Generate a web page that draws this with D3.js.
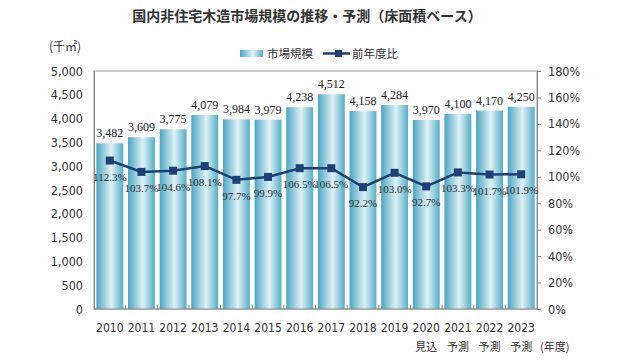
<!DOCTYPE html>
<html>
<head>
<meta charset="utf-8">
<script src="https://cdn.jsdelivr.net/npm/d3@7"></script>
<style>
  body { margin: 0; background: #fff; }
  svg { display: block; }
</style>
</head>
<body>
<svg width="640" height="360"></svg>
<script>
// data
let years = ['2010', '2011', '2012', '2013', '2014', '2015', '2016', '2017', '2018', '2019', '2020', '2021', '2022', '2023']
let notes = ['', '', '', '', '', '', '', '', '', '', '見込', '予測', '予測', '予測']
let market = [3482, 3609, 3775, 4079, 3984, 3979, 4238, 4512, 4158, 4284, 3970, 4100, 4170, 4250]
let ratio = [112.3, 103.7, 104.6, 108.1, 97.7, 99.9, 106.5, 106.5, 92.2, 103.0, 92.7, 103.3, 101.7, 101.9]
let leftTicks = [0, 500, 1000, 1500, 2000, 2500, 3000, 3500, 4000, 4500, 5000]
let rightTicks = [0, 20, 40, 60, 80, 100, 120, 140, 160, 180]

let svg = d3.select('svg')
let pLeft = 94, pRight = 537, pTop = 71, pBottom = 309
let sans = '"DejaVu Sans Condensed", "DejaVu Sans", sans-serif'
let serif = '"Liberation Serif", "Times New Roman", serif'
let jp = '"Noto Sans CJK JP", sans-serif'
let navy = '#1f3f77'

let x = d3.scaleBand().domain(years).range([pLeft, pRight]).paddingInner(0.15).paddingOuter(0.075)
let y = d3.scaleLinear().domain([0, 5000]).range([pBottom, pTop])
let y2 = d3.scaleLinear().domain([0, 180]).range([pBottom, pTop])

// gradient for bars
let defs = svg.append('defs')
let grad = defs.append('linearGradient').attr('id', 'barGrad')
    .attr('x1', '0%').attr('x2', '100%').attr('y1', '0%').attr('y2', '0%')
grad.append('stop').attr('offset', '0%').attr('stop-color', '#4aa6c2')
grad.append('stop').attr('offset', '55%').attr('stop-color', '#e0f2f6')
grad.append('stop').attr('offset', '100%').attr('stop-color', '#55aec8')

// title
svg.append('text').attr('x', 307).attr('y', 21).attr('text-anchor', 'middle')
    .style('font-family', jp).style('font-size', '14px').style('font-weight', 'bold').style('fill', '#333')
    .text('国内非住宅木造市場規模の推移・予測（床面積ベース）')

svg.append('text').attr('x', 49).attr('y', 51)
    .style('font-family', jp).style('font-size', '12px').style('fill', '#333')
    .text('(千㎡)')

// legend
svg.append('rect').attr('x', 240).attr('y', 50).attr('width', 23).attr('height', 7).attr('fill', 'url(#barGrad)')
svg.append('text').attr('x', 267).attr('y', 58)
    .style('font-family', jp).style('font-size', '11.5px').style('fill', '#333').text('市場規模')
svg.append('line').attr('x1', 323).attr('x2', 350).attr('y1', 53.5).attr('y2', 53.5)
    .attr('stroke', navy).attr('stroke-width', 2.5)
svg.append('rect').attr('x', 335).attr('y', 50).attr('width', 7).attr('height', 7).attr('fill', navy)
svg.append('text').attr('x', 352).attr('y', 58)
    .style('font-family', jp).style('font-size', '11.5px').style('fill', '#333').text('前年度比')

// plot frame
svg.append('rect').attr('x', pLeft).attr('y', pTop).attr('width', pRight - pLeft).attr('height', pBottom - pTop)
    .attr('fill', 'none').attr('stroke', '#999').attr('stroke-width', 1)

// bars
svg.append('g').selectAll('rect').data(market).enter().append('rect')
    .attr('x', (d, i) => x(years[i]))
    .attr('y', d => y(d))
    .attr('width', x.bandwidth())
    .attr('height', d => pBottom - y(d))
    .attr('fill', 'url(#barGrad)')

svg.append('g').selectAll('text').data(market).enter().append('text')
    .attr('x', (d, i) => x(years[i]) + x.bandwidth() / 2)
    .attr('y', d => y(d) - 6)
    .attr('text-anchor', 'middle')
    .style('font-family', serif).style('font-size', '12px').style('fill', '#222')
    .text(d => d3.format(',')(d))

// axes
let gl = svg.append('g').attr('transform', `translate(${pLeft},0)`)
    .call(d3.axisLeft(y).tickValues(leftTicks).tickSize(0).tickPadding(11).tickFormat(d3.format(',')))
gl.select('.domain').attr('stroke', '#888')
gl.selectAll('text').style('font-family', sans).style('font-size', '12.5px').style('fill', '#333')

let gr = svg.append('g').attr('transform', `translate(${pRight},0)`)
    .call(d3.axisRight(y2).tickValues(rightTicks).tickSize(4).tickPadding(7).tickFormat(d => d + '%'))
gr.select('.domain').attr('stroke', '#888')
gr.selectAll('line').attr('stroke', '#888')
gr.selectAll('text').style('font-family', sans).style('font-size', '12.5px').style('fill', '#333')

// bottom axis with ticks between categories
let gb = svg.append('g').attr('transform', `translate(0,${pBottom})`)
gb.append('line').attr('x1', pLeft).attr('x2', pRight).attr('stroke', '#888')
gb.selectAll('line.sep').data(years.slice(1)).enter().append('line').attr('class', 'sep')
    .attr('x1', d => x(d) - x.step() * x.paddingInner() / 2)
    .attr('x2', d => x(d) - x.step() * x.paddingInner() / 2)
    .attr('y1', 0).attr('y2', -4).attr('stroke', '#888')
gb.selectAll('text.yr').data(years).enter().append('text').attr('class', 'yr')
    .attr('x', d => x(d) + x.bandwidth() / 2).attr('y', 23).attr('text-anchor', 'middle')
    .style('font-family', sans).style('font-size', '12px').style('fill', '#333')
    .text(d => d)
gb.selectAll('text.note').data(notes).enter().append('text').attr('class', 'note')
    .attr('x', (d, i) => x(years[i]) + x.bandwidth() / 2).attr('y', 42).attr('text-anchor', 'middle')
    .style('font-family', jp).style('font-size', '11px').style('fill', '#333')
    .text(d => d)
svg.append('text').attr('x', 540).attr('y', 351)
    .style('font-family', jp).style('font-size', '11px').style('fill', '#333').text('(年度)')

// line
let line = d3.line().x((d, i) => x(years[i]) + x.bandwidth() / 2).y(d => y2(d))
svg.append('path').datum(ratio).attr('d', line)
    .attr('fill', 'none').attr('stroke', navy).attr('stroke-width', 2.5)
svg.append('g').selectAll('rect').data(ratio).enter().append('rect')
    .attr('x', (d, i) => x(years[i]) + x.bandwidth() / 2 - 4)
    .attr('y', d => y2(d) - 4)
    .attr('width', 8).attr('height', 8)
    .attr('fill', navy)
svg.append('g').selectAll('text').data(ratio).enter().append('text')
    .attr('x', (d, i) => x(years[i]) + x.bandwidth() / 2)
    .attr('y', d => y2(d) + 20)
    .attr('text-anchor', 'middle')
    .style('font-family', serif).style('font-size', '11px').style('fill', '#333')
    .text(d => d.toFixed(1) + '%')
</script>
</body>
</html>
